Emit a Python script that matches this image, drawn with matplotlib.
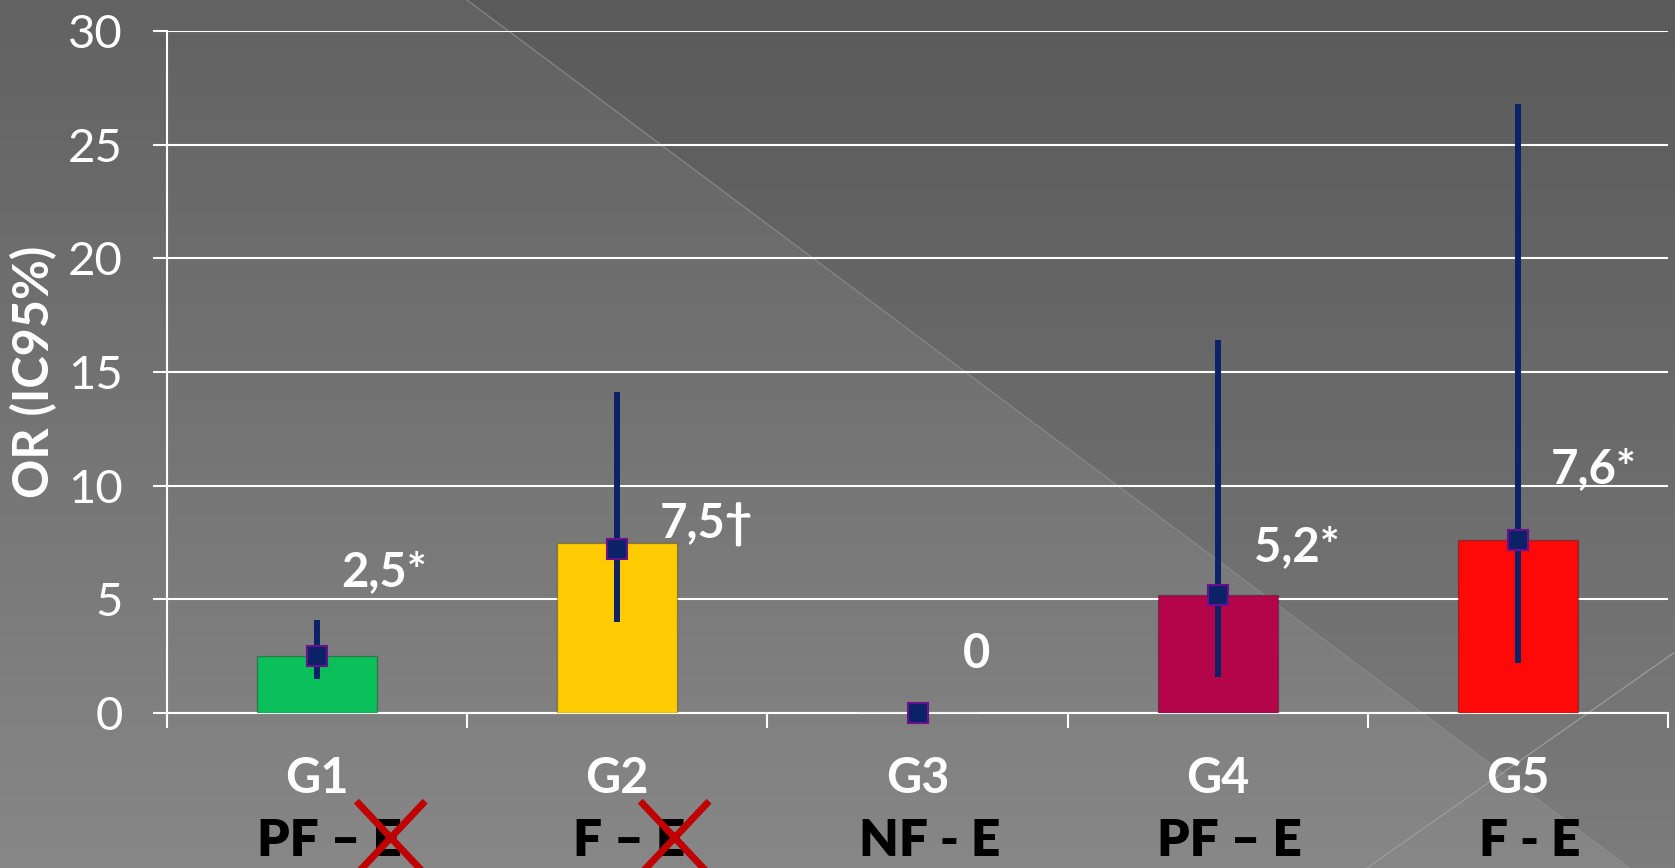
import numpy as np
import matplotlib.pyplot as plt
from matplotlib.lines import Line2D
from matplotlib.patches import Polygon
from matplotlib.transforms import IdentityTransform

# data
groups = ['G1', 'G2', 'G3', 'G4', 'G5']
subgroups = ['PF – E', 'F – E', 'NF - E', 'PF – E', 'F - E']
crossed = [True, True, False, False, False]   # red cross over the "E"
or_bar = [2.5, 7.5, 0, 5.2, 7.6]
or_point = [2.5, 7.2, 0, 5.2, 7.6]
ci_low = [1.5, 4.0, 0, 1.6, 2.2]
ci_high = [4.1, 14.1, 0, 16.4, 26.8]
value_labels = ['2,5*', '7,5†', '0', '5,2*', '7,6*']
bar_colors = ['#0BBF5A', '#FFCC04', '#888888', '#B4054A', '#FF0808']

# where the value labels sit (left edge x, baseline y), placed by hand on the slide
label_x = [0.08, 1.14, 2.15, 3.12, 4.11]
label_y = [5.6, 7.7, 2.0, 6.7, 10.1]

W, H = 1675, 868
fig = plt.figure(figsize=(W / 100, H / 100), dpi=100)

# background: grey gradient + darker diagonal triangle
bg = fig.add_axes([0, 0, 1, 1], zorder=-10)
grad = np.linspace(0, 1, 256).reshape(-1, 1)
top, bot = np.array([0x62, 0x62, 0x62]) / 255, np.array([0x87, 0x87, 0x87]) / 255
img = top + (bot - top) * grad[:, :, None]
bg.imshow(img, aspect='auto', extent=[0, 1, 0, 1], origin='upper')
bg.add_patch(Polygon([(467 / W, 1), (1, 1), (1, 0), (1630 / W, 0)],
                     closed=True, facecolor='black', alpha=0.08, edgecolor='none'))
bg.plot([467 / W, 1630 / W], [1, 0], color='#8a8a8a', lw=0.8)
bg.plot([1, 1367 / W], [1 - 652 / H, 0], color='#a0a0a0', lw=0.8)
bg.set_xlim(0, 1)
bg.set_ylim(0, 1)
bg.axis('off')

ax = fig.add_axes([167 / W, 1 - 713 / H, 1501 / W, 682 / H])
ax.set_facecolor('none')

x = np.arange(len(groups))
ax.bar(x, or_bar, width=0.4, color=bar_colors, edgecolor='#00000040', linewidth=1, zorder=3)

yerr = [np.array(or_point) - np.array(ci_low), np.array(ci_high) - np.array(or_point)]
eb = ax.errorbar(x, or_point, yerr=yerr, fmt='s', color='#0C2266', ecolor='#0C2266',
                 elinewidth=4.3, capsize=0, markersize=15, markerfacecolor='#0C2266',
                 markeredgecolor='#6A0F8E', markeredgewidth=1.5, zorder=4)
eb[0].set_clip_on(False)

for i in range(len(groups)):
    ax.text(label_x[i], label_y[i], value_labels[i], color='white', fontsize=34,
            fontweight='bold', family=['Lato', 'DejaVu Sans'], ha='left', va='baseline', zorder=5)

ax.set_xlim(-0.5, 4.5)
ax.set_ylim(0, 30)
ax.set_yticks(np.arange(0, 31, 5))
ax.set_yticklabels([str(v) for v in range(0, 31, 5)], color='white', fontsize=34,
                   fontweight='normal', family=['Lato', 'DejaVu Sans'])
ax.tick_params(axis='y', length=10, width=1.5, color='white', pad=22)
ax.set_xticks(np.arange(-0.5, 4.6, 1))
ax.set_xticklabels([])
ax.tick_params(axis='x', length=11, width=1.5, color='white', direction='out')
ax.grid(axis='y', color='white', linewidth=1.5, zorder=0)
ax.set_axisbelow(True)
for s in ['top', 'right']:
    ax.spines[s].set_visible(False)
for s in ['left', 'bottom']:
    ax.spines[s].set_color('white')
    ax.spines[s].set_linewidth(1.5)

ax.text(-0.0886, 0.5, 'OR (IC95%)', transform=ax.transAxes, rotation=90, color='white',
        fontsize=35, fontweight='bold', family=['Lato', 'DejaVu Sans'], ha='center', va='center')

tr = ax.get_xaxis_transform()
sub_font = dict(fontsize=37, fontweight='heavy', family=['Lato', 'DejaVu Sans'])
sub_texts = []
for i, g in enumerate(groups):
    ax.text(x[i], -0.1173, g, transform=tr, color='white', fontsize=35, fontweight='bold',
            family=['Lato', 'DejaVu Sans'], ha='center', va='baseline')
    t = ax.text(x[i] + 0.04, -0.21, subgroups[i], transform=tr, color='black',
                ha='center', va='baseline', **sub_font)
    sub_texts.append(t)

# red crosses over the "E" of the crossed groups
fig.canvas.draw()
rend = fig.canvas.get_renderer()
probe = ax.text(0, 0, 'E', transform=tr, **sub_font)
e_w = probe.get_window_extent(rend).width
probe.remove()
cap = 37 * 100 / 72 * 0.72
for i, t in enumerate(sub_texts):
    if not crossed[i]:
        continue
    bb = t.get_window_extent(rend)
    base = tr.transform((x[i], -0.21))[1]
    cx = bb.x1 - e_w / 2 + 4
    cy = base + cap / 2
    for dy in (1, -1):
        fig.add_artist(Line2D([cx - 32, cx + 32], [cy + dy * 34, cy - dy * 34],
                              transform=IdentityTransform(), color='#C00000', lw=5))

fig.savefig('out.png', dpi=100)
